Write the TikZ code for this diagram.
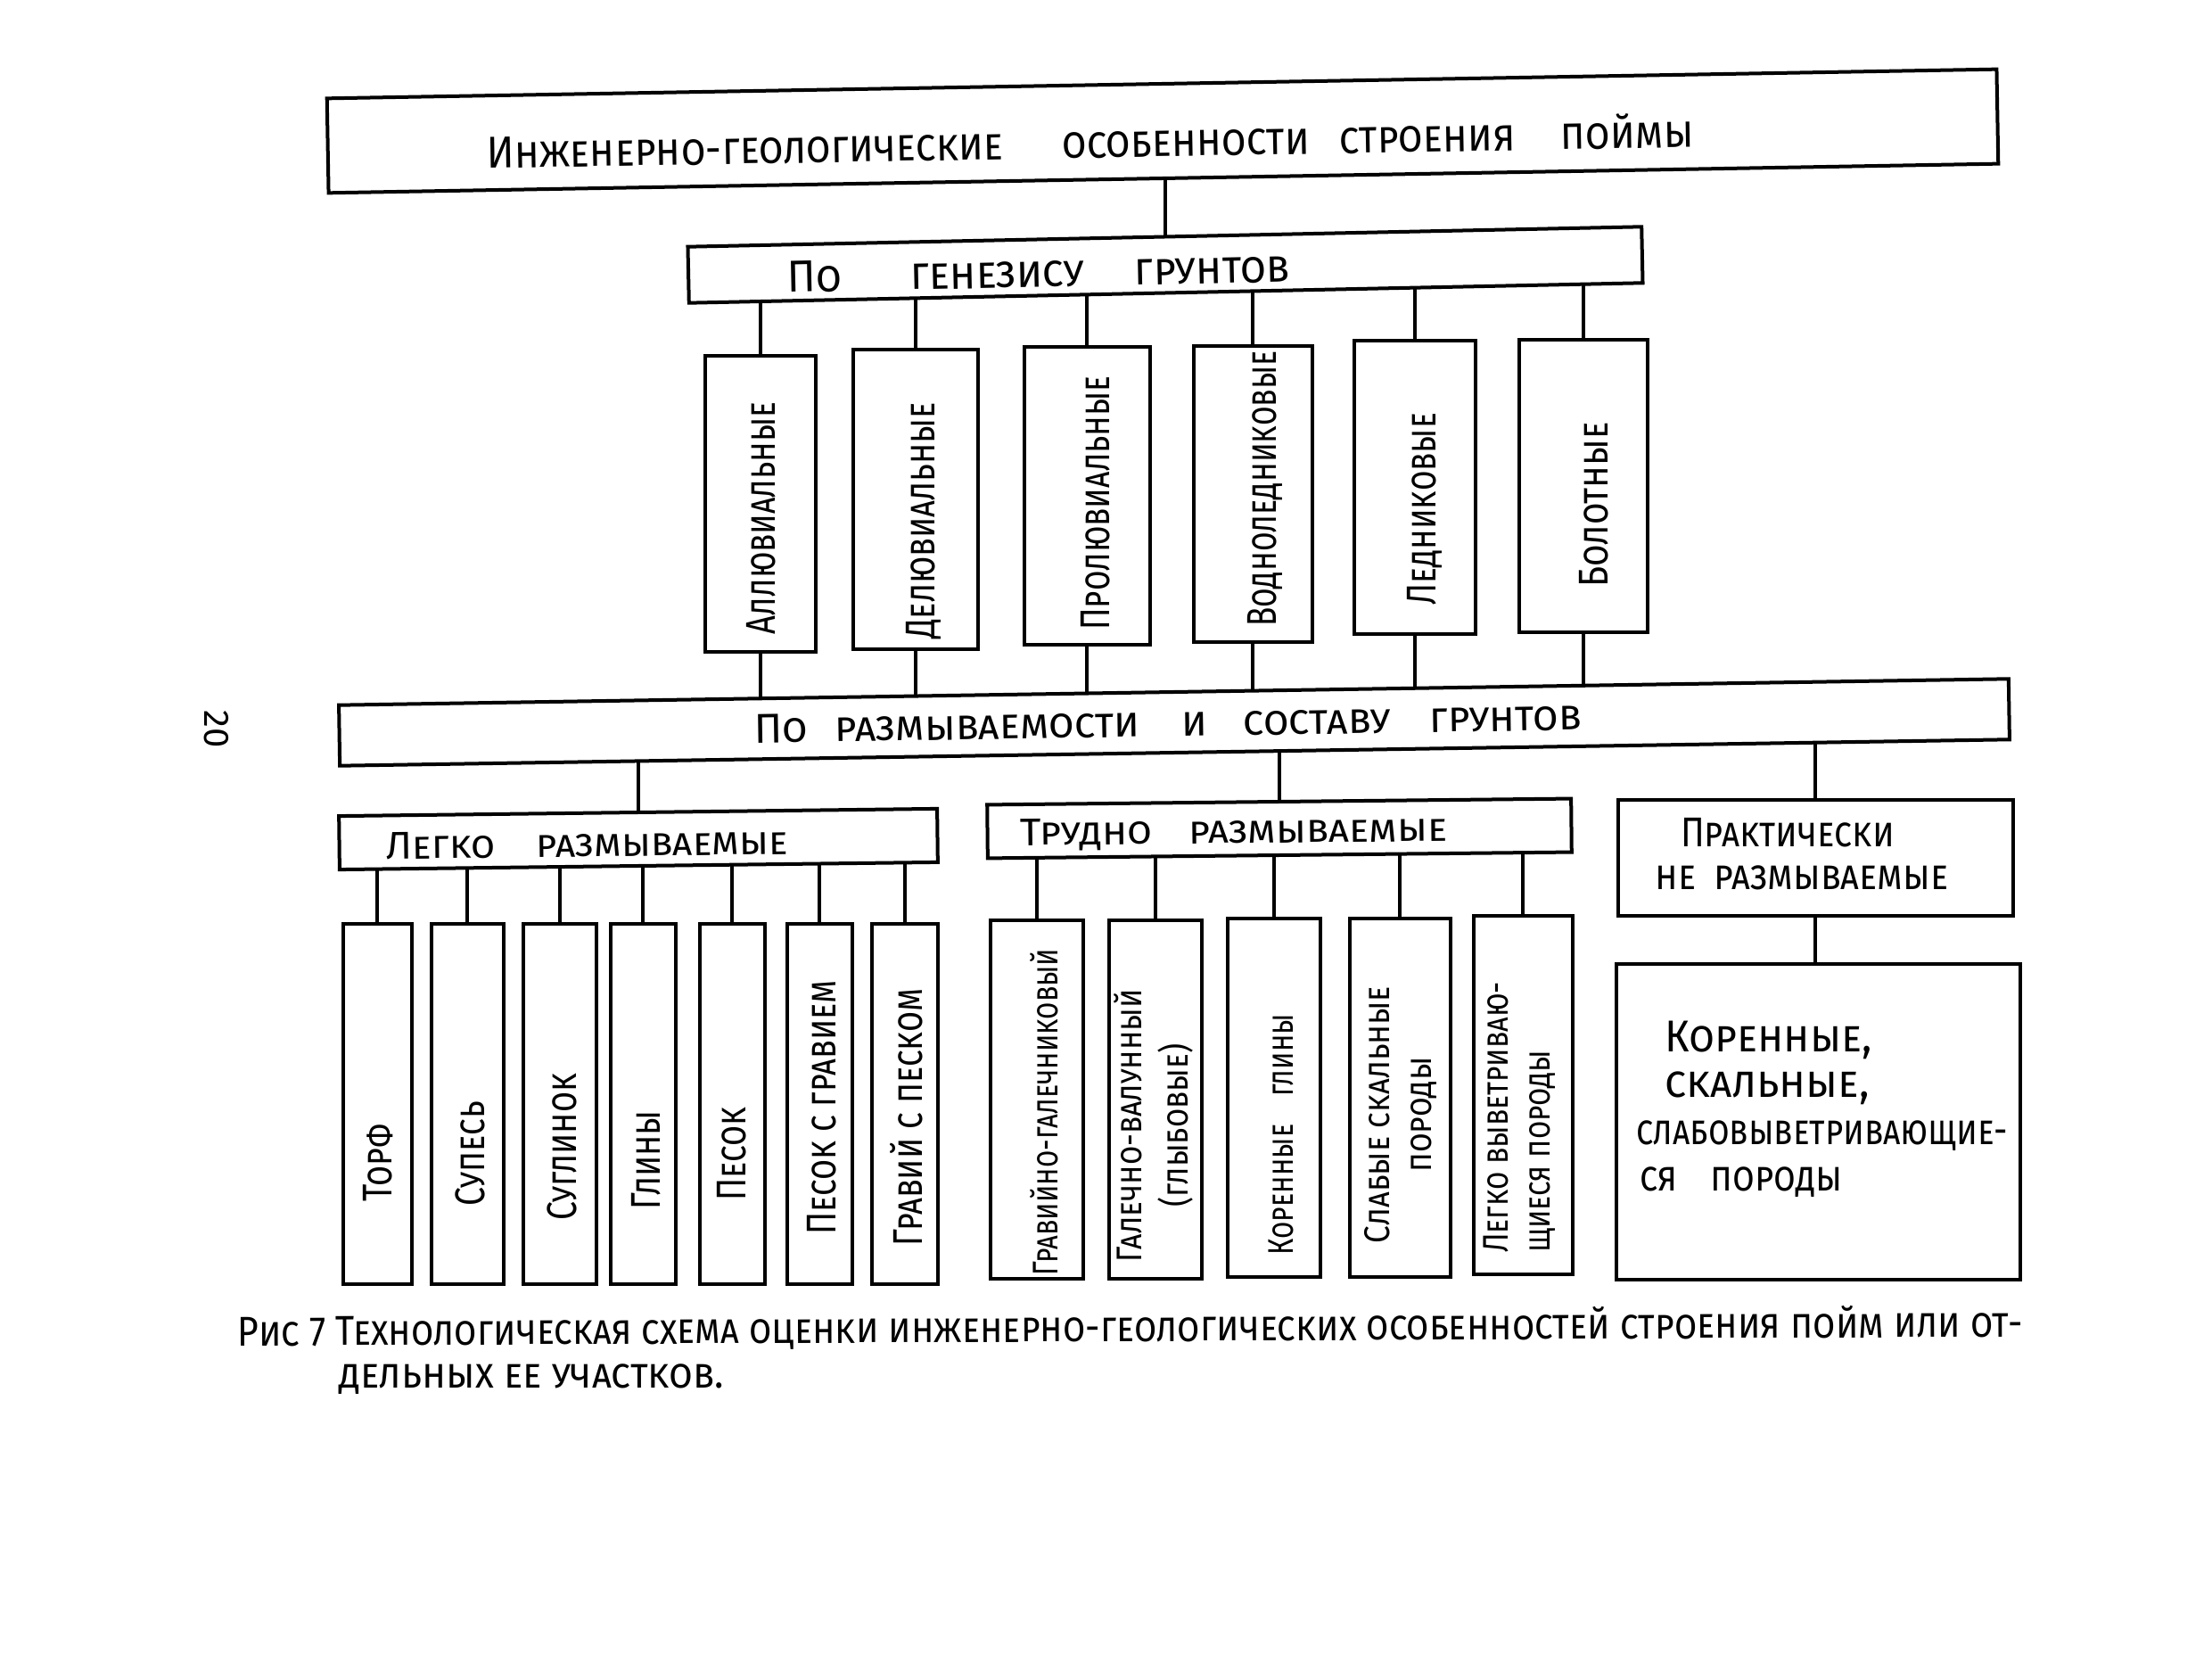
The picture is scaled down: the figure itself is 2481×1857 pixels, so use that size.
\documentclass[tikz,border=0pt]{standalone}
\usepackage{fontspec}
\usepackage{graphicx}
\newfontfamily\hand[Letters=SmallCaps]{Fira Sans}
\usetikzlibrary{calc}
\pgfdeclarelayer{bg}
\pgfsetlayers{bg,main}
\newcommand\hw[3]{\scalebox{#2}[1]{\fontsize{#1}{#1}\selectfont\hand #3}}
\tikzset{
  box/.style={draw, line width=1.2pt, fill=white, inner sep=0pt},
  conn/.style={line width=1.1pt},
  lbl/.style={inner sep=0pt},
  vlbl/.style={inner sep=0pt, rotate=90}
}
\newcommand\bx[6]{\node[box, rotate=#6, minimum width=#4*0.3pt, minimum height=#5*0.3pt] (#1) at (#2,#3) {};}
\begin{document}
\begin{tikzpicture}[x=0.3pt,y=-0.3pt]
\useasboundingbox (0,0) rectangle (2481,1857);
\begin{pgfonlayer}{bg}
\fill[white] (0,0) rectangle (2481,1857);
\end{pgfonlayer}
% boxes
\bx{top}{1304}{147}{1873}{106}{1}
\bx{gen}{1307}{297}{1070}{63}{1.2}
\bx{g1}{853}{565}{124}{332}{0}
\bx{g2}{1027}{560}{140}{336}{0}
\bx{g3}{1219}{556}{141}{334}{0}
\bx{g4}{1405}{554}{133}{332}{0}
\bx{g5}{1587}{547}{136}{329}{0}
\bx{g6}{1776}{545}{144}{328}{0}
\bx{razm}{1317}{810}{1873}{68}{0.9}
\bx{legko}{716}{941}{671}{60}{0.7}
\bx{trud}{1435}{929}{655}{60}{0.6}
\bx{prak}{2036}{962}{443}{130}{0}
\bx{bot}{2039}{1258}{453}{354}{0}
\bx{l1}{423}{1238}{77}{404}{0}
\bx{l2}{524}{1238}{81}{404}{0}
\bx{l3}{628}{1238}{82}{404}{0}
\bx{l4}{721}{1238}{73}{404}{0}
\bx{l5}{821}{1238}{73}{404}{0}
\bx{l6}{919}{1238}{73}{404}{0}
\bx{l7}{1015}{1238}{74}{404}{0}
\bx{r1}{1163}{1233}{104}{402}{0}
\bx{r2}{1296}{1233}{104}{402}{0}
\bx{r3}{1429}{1231}{104}{402}{0}
\bx{r4}{1570}{1231}{113}{402}{0}
\bx{r5}{1708}{1228}{111}{402}{0}
% connectors
\begin{pgfonlayer}{bg}
\draw[conn] (gen.center |- top.center) -- (gen.center);
\foreach \g in {g1,g2,g3,g4,g5,g6}{
  \draw[conn] (\g.center |- gen.center) -- (\g.center) -- (\g.center |- razm.center);
}
\foreach \g in {legko,trud,prak}{
  \draw[conn] (\g.center |- razm.center) -- (\g.center);
}
\foreach \g in {l1,l2,l3,l4,l5,l6,l7}{
  \draw[conn] (\g.center |- legko.center) -- (\g.center);
}
\foreach \g in {r1,r2,r3,r4,r5}{
  \draw[conn] (\g.center |- trud.center) -- (\g.center);
}
\draw[conn] (prak.center) -- (prak.center |- bot.center);
\end{pgfonlayer}
% labels
\node[lbl, rotate=1] (t0) at (1223,158) {\hw{15}{0.9}{Инженерно-геологические\hspace{22pt}особенности\hspace{11pt}строения\hspace{17pt}поймы}};
\node[lbl, rotate=1.2] (t1) at (1165,305) {\hw{15}{0.95}{По\hspace{24pt}генезису\hspace{18pt}грунтов}};
\node[vlbl] (a1) at (854,581) {\hw{14}{0.78}{Аллювиальные}};
\node[vlbl] (a2) at (1036,584) {\hw{14}{0.8}{Делювиальные}};
\node[vlbl] (a3) at (1229,564) {\hw{14}{0.78}{Пролювиальные}};
\node[vlbl] (a4) at (1419,548) {\hw{14}{0.75}{Водноледниковые}};
\node[vlbl] (a5) at (1598,571) {\hw{14}{0.78}{Ледниковые}};
\node[vlbl] (a6) at (1788,566) {\hw{14}{0.85}{Болотные}};
\node[lbl, rotate=0.9] (t2) at (1310,810) {\hw{14}{1.0}{По\hspace{9pt}размываемости\hspace{14pt}и\hspace{12pt}составу\hspace{13pt}грунтов}};
\node[lbl, rotate=0.7] (t3) at (659,946) {\hw{13}{1.02}{Легко\hspace{13.5pt}размываемые}};
\node[lbl, rotate=0.6] (t4) at (1384,934) {\hw{13}{1.05}{Трудно\hspace{11.5pt}размываемые}};
\node[lbl] (t5a) at (2005,934) {\hw{14}{0.85}{Практически}};
\node[lbl] (t5b) at (2021,984) {\hw{14}{0.88}{не\hspace{7pt}размываемые}};
\node[lbl, anchor=west] (b1) at (1867,1166) {\hw{15}{0.94}{Коренные,}};
\node[lbl, anchor=west] (b2) at (1867,1220) {\hw{15}{0.96}{скальные,}};
\node[lbl, anchor=west] (b3) at (1835,1274) {\hw{14}{0.82}{слабовыветривающие-}};
\node[lbl, anchor=west] (b4) at (1839,1326) {\hw{14}{0.86}{ся\hspace{13pt}породы}};
\node[vlbl] (c1) at (424,1304) {\hw{14}{0.8}{Торф}};
\node[vlbl] (c2) at (527,1294) {\hw{14}{0.8}{Супесь}};
\node[vlbl] (c3) at (630,1286) {\hw{14}{0.8}{Суглинок}};
\node[vlbl] (c4) at (725,1301) {\hw{14}{0.8}{Глины}};
\node[vlbl] (c5) at (821,1294) {\hw{14}{0.8}{Песок}};
\node[vlbl] (c6) at (922,1242) {\hw{14}{0.8}{Песок с гравием}};
\node[vlbl] (c7) at (1017,1253) {\hw{14}{0.8}{Гравий с песком}};
\node[vlbl] (d1) at (1171,1247) {\hw{12}{0.78}{Гравийно-галечниковый}};
\node[vlbl] (d2) at (1297,1262) {\hw{12}{0.86}{\begin{tabular}{@{}c@{}}Галечно-валунный\\[2pt](глыбовые)\end{tabular}}};
\node[vlbl] (d3) at (1437,1272) {\hw{12}{0.78}{Коренные\hspace{12pt}глины}};
\node[vlbl] (d4) at (1574,1250) {\hw{12}{0.88}{\begin{tabular}{@{}c@{}}Слабые скальные\\[2pt]породы\end{tabular}}};
\node[vlbl] (d5) at (1707,1253) {\hw{12}{0.82}{\begin{tabular}{@{}l@{}}Легко выветриваю-\\[2pt]щиеся породы\end{tabular}}};
\node[lbl, anchor=west, rotate=0.3] (cap1) at (266,1495) {\hw{14}{0.88}{Рис 7 Технологическая схема оценки инженерно-геологических особенностей строения пойм или от-}};
\node[lbl, anchor=west] (cap2) at (380,1547) {\hw{14}{0.93}{дельных ее участков.}};
\node[lbl, rotate=-90] (pn) at (243,818) {\hw{12}{1}{20}};
\end{tikzpicture}
\end{document}
